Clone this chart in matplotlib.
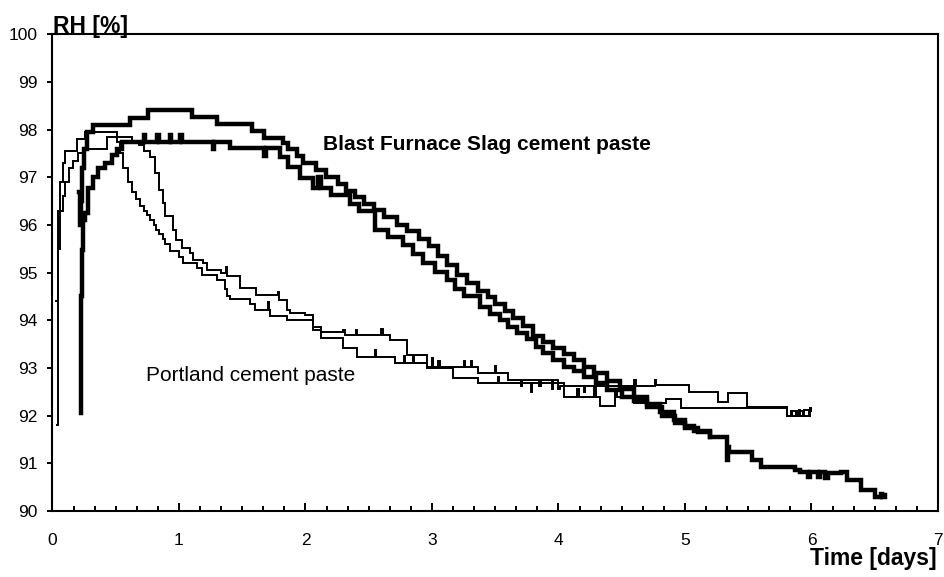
import matplotlib
matplotlib.use("Agg")
import matplotlib.pyplot as plt
from matplotlib.ticker import MultipleLocator

plt.rcParams['font.family'] = ['Liberation Sans', 'DejaVu Sans']

# ---------------- data (time in days, RH in %) ----------------
# Portland cement paste, specimen 1 (earlier drop, lower later)
p1_t = [0.035, 0.040, 0.045, 0.060, 0.080, 0.100, 0.190, 0.260, 0.510, 0.530, 0.560, 0.600,
        0.630, 0.660, 0.690, 0.720, 0.745, 0.770, 0.800, 0.820, 0.840, 0.870, 0.890, 0.930,
        1.000, 1.030, 1.140, 1.180, 1.300, 1.360, 1.380, 1.400, 1.560, 1.600, 1.700, 1.710,
        1.720, 1.850, 2.060, 2.120, 2.300, 2.410, 2.550, 2.560, 2.710, 2.780, 2.790, 2.850,
        2.860, 2.960, 3.050, 3.060, 3.170, 3.360, 3.520, 3.530, 3.780, 3.790, 4.040, 4.150,
        4.160, 4.280, 4.300, 4.330, 4.450, 4.460, 4.600, 4.850, 4.970, 5.810, 5.850, 5.880,
        5.890, 5.930, 5.940, 5.980, 5.990, 6.000]
p1_rh = [91.8, 95.0, 96.3, 96.9, 97.3, 97.55, 97.8, 97.95, 97.75, 97.5, 97.2, 96.9,
         96.7, 96.55, 96.4, 96.3, 96.2, 96.1, 96.0, 95.9, 95.8, 95.7, 95.6, 95.45,
         95.33, 95.2, 95.1, 94.96, 94.85, 94.65, 94.5, 94.45, 94.35, 94.22, 94.38, 94.22,
         94.1, 94.0, 93.8, 93.63, 93.42, 93.23, 93.38, 93.23, 93.1, 93.25, 93.1, 93.25,
         93.1, 93.0, 93.15, 93.0, 92.8, 92.68, 92.82, 92.68, 92.5, 92.68, 92.4, 92.55,
         92.4, 92.6, 92.4, 92.2, 92.55, 92.4, 92.27, 92.35, 92.15, 92.0, 92.1, 92.0,
         92.1, 92.0, 92.12, 92.0, 92.12, 92.1]

# Portland cement paste, specimen 2 (later drop, upper later)
p2_t = [0.030, 0.045, 0.060, 0.080, 0.100, 0.130, 0.160, 0.200, 0.260, 0.430, 0.630, 0.680,
        0.720, 0.770, 0.810, 0.840, 0.870, 0.890, 0.950, 0.980, 1.020, 1.090, 1.110, 1.190,
        1.220, 1.330, 1.370, 1.380, 1.480, 1.610, 1.780, 1.790, 1.850, 1.880, 2.000, 2.060,
        2.120, 2.300, 2.310, 2.400, 2.410, 2.600, 2.610, 2.670, 2.800, 2.960, 3.000, 3.010,
        3.250, 3.260, 3.310, 3.320, 3.360, 3.500, 3.510, 3.600, 3.700, 3.710, 3.850, 3.860,
        3.950, 3.960, 4.000, 4.010, 4.200, 4.210, 4.450, 4.600, 4.610, 4.760, 4.770, 5.030,
        5.260, 5.340, 5.490, 5.810, 5.840, 5.850, 5.900, 5.910, 5.990, 6.000]
p2_rh = [94.4, 95.5, 96.3, 96.6, 96.9, 97.2, 97.35, 97.5, 97.6, 97.85, 97.75, 97.68,
         97.55, 97.43, 97.1, 96.74, 96.47, 96.18, 95.9, 95.69, 95.52, 95.42, 95.27, 95.2,
         95.06, 95.0, 95.12, 94.92, 94.68, 94.53, 94.6, 94.42, 94.22, 94.16, 94.11, 93.86,
         93.75, 93.8, 93.7, 93.8, 93.7, 93.82, 93.7, 93.59, 93.28, 93.03, 93.2, 93.03,
         93.15, 93.03, 93.15, 93.03, 92.9, 93.05, 92.9, 92.75, 92.62, 92.75, 92.62, 92.75,
         92.55, 92.75, 92.55, 92.62, 92.5, 92.62, 92.62, 92.75, 92.62, 92.75, 92.65, 92.5,
         92.29, 92.48, 92.19, 92.0, 92.1, 92.0, 92.12, 92.0, 92.15, 92.1]

# Blast Furnace Slag cement paste, specimen 1 (plateau ~98.4)
b1_t = [0.210, 0.218, 0.225, 0.235, 0.250, 0.270, 0.320, 0.610, 0.755, 1.100, 1.300, 1.580,
        1.670, 1.820, 1.860, 1.930, 1.980, 2.080, 2.160, 2.260, 2.320, 2.390, 2.460, 2.540,
        2.620, 2.720, 2.800, 2.900, 2.980, 3.050, 3.120, 3.200, 3.280, 3.360, 3.440, 3.500,
        3.580, 3.640, 3.720, 3.800, 3.880, 3.960, 4.040, 4.120, 4.200, 4.280, 4.380, 4.490,
        4.600, 4.700, 4.800, 4.910, 5.000, 5.070, 5.200, 5.330, 5.340, 5.350, 5.440, 5.530,
        5.600, 5.870, 5.910, 5.970, 5.990, 6.050, 6.070, 6.110, 6.130, 6.230, 6.280, 6.390,
        6.500, 6.550, 6.560, 6.580]
b1_rh = [96.7, 96.0, 96.5, 97.2, 97.6, 97.95, 98.1, 98.25, 98.41, 98.27, 98.12, 97.97,
         97.83, 97.72, 97.6, 97.45, 97.3, 97.15, 97.0, 96.85, 96.72, 96.59, 96.45, 96.32,
         96.17, 96.0, 95.88, 95.7, 95.55, 95.35, 95.15, 94.95, 94.78, 94.62, 94.48, 94.35,
         94.2, 94.05, 93.88, 93.68, 93.55, 93.42, 93.3, 93.17, 93.03, 92.9, 92.72, 92.55,
         92.4, 92.25, 92.08, 91.9, 91.78, 91.68, 91.55, 91.07, 91.35, 91.24, 91.24, 91.07,
         90.93, 90.87, 90.82, 90.72, 90.82, 90.72, 90.82, 90.7, 90.8, 90.82, 90.66, 90.45,
         90.3, 90.36, 90.3, 90.33]

# Blast Furnace Slag cement paste, specimen 2 (plateau ~97.7)
b2_t = [0.226, 0.228, 0.232, 0.245, 0.257, 0.280, 0.320, 0.360, 0.415, 0.470, 0.510, 0.550,
        0.720, 0.730, 0.830, 0.840, 0.930, 0.940, 1.010, 1.020, 1.270, 1.280, 1.400, 1.670,
        1.690, 1.800, 1.860, 1.960, 2.060, 2.100, 2.120, 2.200, 2.350, 2.420, 2.550, 2.650,
        2.770, 2.850, 2.930, 3.020, 3.120, 3.180, 3.250, 3.380, 3.460, 3.540, 3.600, 3.670,
        3.750, 3.820, 3.880, 3.960, 4.040, 4.120, 4.200, 4.300, 4.380, 4.500, 4.600, 4.700,
        4.820, 4.920, 5.000, 5.100, 5.200]
b2_rh = [92.06, 94.5, 95.47, 96.1, 96.25, 96.77, 97.0, 97.19, 97.3, 97.47, 97.6, 97.74,
         97.88, 97.74, 97.88, 97.74, 97.88, 97.74, 97.88, 97.74, 97.6, 97.74, 97.62, 97.45,
         97.62, 97.42, 97.22, 96.98, 96.78, 97.0, 96.78, 96.62, 96.45, 96.3, 95.9, 95.75,
         95.58, 95.4, 95.2, 95.02, 94.84, 94.66, 94.5, 94.28, 94.14, 94.0, 93.86, 93.73,
         93.6, 93.45, 93.31, 93.17, 93.03, 92.93, 92.82, 92.68, 92.54, 92.4, 92.3, 92.18,
         92.0, 91.85, 91.75, 91.65, 91.55]

x_ticks = [0, 1, 2, 3, 4, 5, 6, 7]
y_ticks = [90, 91, 92, 93, 94, 95, 96, 97, 98, 99, 100]

# ---------------- figure ----------------
fig = plt.figure(figsize=(9.44, 5.77), dpi=100)
ax = fig.add_axes([0.0556, 0.1144, 0.9380, 0.8262])

thin = dict(color='black', lw=1.4, drawstyle='steps-post', solid_joinstyle='miter')
thick = dict(color='black', lw=3.2, drawstyle='steps-post', solid_joinstyle='miter')
ax.plot(p1_t, p1_rh, **thin)
ax.plot(p2_t, p2_rh, **thin)
ax.plot(b1_t, b1_rh, **thick)
ax.plot(b2_t, b2_rh, **thick)

ax.set_xlim(0, 7)
ax.set_ylim(90, 100)
ax.set_xticks(x_ticks)
ax.set_yticks(y_ticks)
ax.xaxis.set_minor_locator(MultipleLocator(1 / 6))
ax.tick_params(axis='x', which='major', direction='in', length=6, width=1.4,
               pad=16, labelsize=12.5)
ax.tick_params(axis='x', which='minor', direction='in', length=3.5, width=1.4)
ax.tick_params(axis='y', which='major', direction='out', length=3.5, width=1.4,
               pad=7, labelsize=12.5)
for s in ax.spines.values():
    s.set_linewidth(1.5)

fig.text(53 / 944, (577 - 33.3) / 577, 'RH [%]', fontsize=16.5, fontweight='bold',
         ha='left', va='baseline')
fig.text(937 / 944, (577 - 565) / 577, 'Time [days]', fontsize=16.5, fontweight='bold',
         ha='right', va='baseline')
ax.text(2.14, 97.57, 'Blast Furnace Slag cement paste', fontsize=15,
        fontweight='bold', ha='left', va='baseline')
ax.text(0.737, 92.72, 'Portland cement paste', fontsize=15, ha='left', va='baseline')

fig.savefig('out.png', dpi=100)
